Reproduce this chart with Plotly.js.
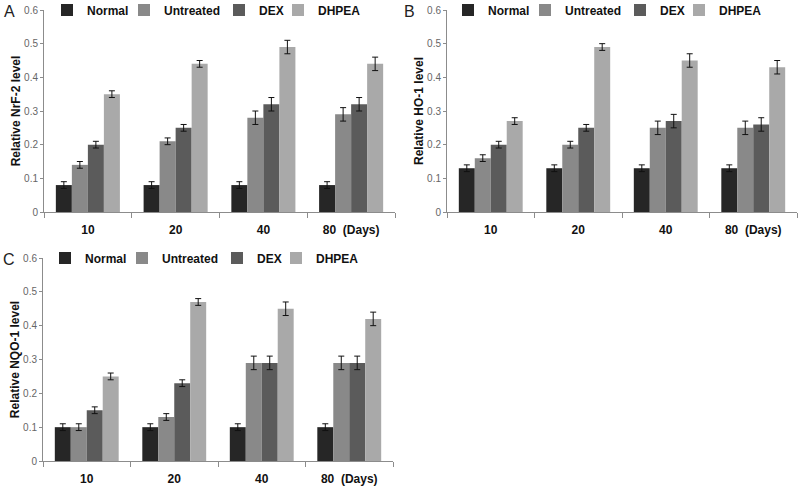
<!DOCTYPE html>
<html><head><meta charset="utf-8">
<script src="https://cdn.plot.ly/plotly-3.0.1.min.js"></script>
<style>html,body{margin:0;padding:0;background:#fff}#chart{width:800px;height:488px}</style>
</head><body><div id="chart"></div>
<script>
// ---- data ----
const categories = ['10', '20', '40', '80'];
const tickLabels = ['10', '20', '40', '80\u00a0\u00a0(Days)'];
const seriesNames = ['Normal', 'Untreated', 'DEX', 'DHPEA'];
const panelLetters = ['A', 'B', 'C'];
const yTitles = ['Relative NrF-2 level', 'Relative HO-1 level', 'Relative NQO-1 level'];

// Panel A: NrF-2
const nrf2Normal    = [0.08, 0.08, 0.08, 0.08];
const nrf2Untreated = [0.14, 0.21, 0.28, 0.29];
const nrf2Dex       = [0.20, 0.25, 0.32, 0.32];
const nrf2Dhpea     = [0.35, 0.44, 0.49, 0.44];
const nrf2NormalErr    = [0.01, 0.01, 0.01, 0.01];
const nrf2UntreatedErr = [0.01, 0.01, 0.02, 0.02];
const nrf2DexErr       = [0.01, 0.01, 0.02, 0.02];
const nrf2DhpeaErr     = [0.01, 0.01, 0.02, 0.02];

// Panel B: HO-1
const ho1Normal    = [0.13, 0.13, 0.13, 0.13];
const ho1Untreated = [0.16, 0.20, 0.25, 0.25];
const ho1Dex       = [0.20, 0.25, 0.27, 0.26];
const ho1Dhpea     = [0.27, 0.49, 0.45, 0.43];
const ho1NormalErr    = [0.01, 0.01, 0.01, 0.01];
const ho1UntreatedErr = [0.01, 0.01, 0.02, 0.02];
const ho1DexErr       = [0.01, 0.01, 0.02, 0.02];
const ho1DhpeaErr     = [0.01, 0.01, 0.02, 0.02];

// Panel C: NQO-1
const nqo1Normal    = [0.10, 0.10, 0.10, 0.10];
const nqo1Untreated = [0.10, 0.13, 0.29, 0.29];
const nqo1Dex       = [0.15, 0.23, 0.29, 0.29];
const nqo1Dhpea     = [0.25, 0.47, 0.45, 0.42];
const nqo1NormalErr    = [0.01, 0.01, 0.01, 0.01];
const nqo1UntreatedErr = [0.01, 0.01, 0.02, 0.02];
const nqo1DexErr       = [0.01, 0.01, 0.02, 0.02];
const nqo1DhpeaErr     = [0.01, 0.01, 0.02, 0.02];

// ---- styling ----
const seriesColors = ['#262626', '#898989', '#5b5b5b', '#a9a9a9'];
const FONT = 'Arial, "Liberation Sans", sans-serif';
const W = 800, H = 488;

const panels = [
  { vals: [nrf2Normal, nrf2Untreated, nrf2Dex, nrf2Dhpea],
    errs: [nrf2NormalErr, nrf2UntreatedErr, nrf2DexErr, nrf2DhpeaErr],
    legendDx: 0, legendY: 10 },
  { vals: [ho1Normal, ho1Untreated, ho1Dex, ho1Dhpea],
    errs: [ho1NormalErr, ho1UntreatedErr, ho1DexErr, ho1DhpeaErr],
    legendDx: 401, legendY: 10 },
  { vals: [nqo1Normal, nqo1Untreated, nqo1Dex, nqo1Dhpea],
    errs: [nqo1NormalErr, nqo1UntreatedErr, nqo1DexErr, nqo1DhpeaErr],
    legendDx: -2, legendY: 258 }
];
// left edge (px) of each legend entry within a panel
const legendEntryLeft = [47, 124, 219, 278];

const traces = [];
const layout = {
  width: W, height: H,
  margin: { l: 0, r: 0, t: 0, b: 0, autoexpand: false },
  paper_bgcolor: '#fff', plot_bgcolor: '#fff',
  barmode: 'group', bargap: 0.27, bargroupgap: 0,
  showlegend: true
};

function legendCfg(xpx, ypx) {
  return {
    orientation: 'h', x: xpx / W, xanchor: 'left', y: 1 - ypx / H, yanchor: 'middle',
    itemwidth: 30,
    font: { family: FONT, size: 12, color: '#111', weight: 'bold' },
    bgcolor: 'rgba(0,0,0,0)', borderwidth: 0, tracegroupgap: 0,
    itemclick: false, itemdoubleclick: false
  };
}

panels.forEach((p, pi) => {
  const sfx = pi === 0 ? '' : String(pi + 1);
  seriesNames.forEach((name, si) => {
    const li = pi * 4 + si + 1;
    const lname = li === 1 ? 'legend' : 'legend' + li;
    layout[lname] = legendCfg(legendEntryLeft[si] + p.legendDx, p.legendY);
    traces.push({
      type: 'bar',
      name: name,
      x: categories,
      y: p.vals[si],
      xaxis: 'x' + sfx,
      yaxis: 'y' + sfx,
      legend: lname,
      marker: { color: seriesColors[si], line: { width: 0 } },
      error_y: { type: 'data', array: p.errs[si], visible: true, color: '#111', thickness: 1, width: 3 },
      hoverinfo: 'skip'
    });
  });
});

function xAxis(domain, anchor) {
  return {
    domain: domain, anchor: anchor, type: 'category',
    tickvals: categories, ticktext: tickLabels, tickangle: 0,
    showline: true, linecolor: '#8c8c8c', linewidth: 1,
    ticks: 'outside', tickson: 'boundaries', ticklen: 5, tickcolor: '#8c8c8c',
    tickfont: { family: FONT, size: 12, color: '#111', weight: 'bold' },
    ticklabelstandoff: 7, automargin: false,
    showgrid: false, zeroline: false, fixedrange: true
  };
}
function yAxis(domain, anchor, title) {
  return {
    domain: domain, anchor: anchor, range: [0, 0.6], dtick: 0.1, tick0: 0,
    showline: true, linecolor: '#8c8c8c', linewidth: 1,
    ticks: 'outside', ticklen: 3, tickcolor: '#8c8c8c',
    tickfont: { family: FONT, size: 10, color: '#666' },
    showgrid: false, zeroline: false, fixedrange: true, automargin: false,
    title: { text: title, font: { family: FONT, size: 12, color: '#111', weight: 'bold' }, standoff: 0 }
  };
}

Object.assign(layout, {
  xaxis:  xAxis([44 / W, 395 / W], 'y'),
  yaxis:  yAxis([1 - 212 / H, 1 - 10 / H], 'x', yTitles[0]),
  xaxis2: xAxis([447 / W, 797 / W], 'y2'),
  yaxis2: yAxis([1 - 212 / H, 1 - 10 / H], 'x2', yTitles[1]),
  xaxis3: xAxis([43 / W, 393 / W], 'y3'),
  yaxis3: yAxis([1 - 461 / H, 1 - 258 / H], 'x3', yTitles[2]),
  annotations: [
    { text: panelLetters[0], xref: 'paper', yref: 'paper', x: 9 / W, y: 1 - 11 / H, showarrow: false, xanchor: 'center', yanchor: 'middle', font: { family: FONT, size: 16, color: '#222' } },
    { text: panelLetters[1], xref: 'paper', yref: 'paper', x: 410 / W, y: 1 - 11 / H, showarrow: false, xanchor: 'center', yanchor: 'middle', font: { family: FONT, size: 16, color: '#222' } },
    { text: panelLetters[2], xref: 'paper', yref: 'paper', x: 9 / W, y: 1 - 259 / H, showarrow: false, xanchor: 'center', yanchor: 'middle', font: { family: FONT, size: 16, color: '#222' } }
  ]
});

Plotly.newPlot('chart', traces, layout, { displayModeBar: false, staticPlot: true });
</script>
</body></html>
